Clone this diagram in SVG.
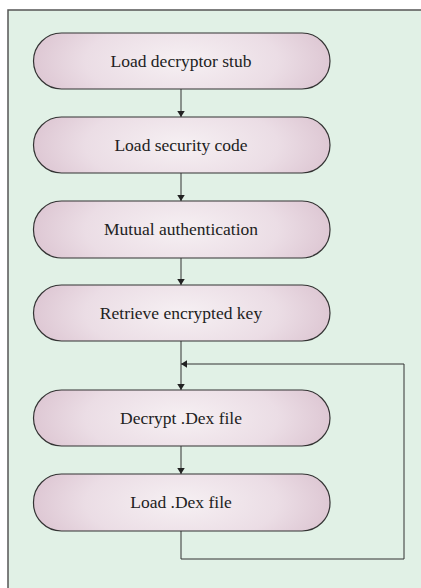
<svg xmlns="http://www.w3.org/2000/svg" width="421" height="588" viewBox="0 0 421 588">
  <style>
    .node rect { fill: url(#pill); stroke: #333; stroke-width: 1.2; }
    .node text { font-size: 17.5px; fill: #222; text-anchor: middle; }
    .edge { fill: none; stroke: #333; stroke-width: 1; }
  </style>
  <defs>
    <radialGradient id="pill" cx="0.5" cy="0.5" r="0.5" gradientTransform="translate(0.5 0.5) scale(1 2.2) translate(-0.5 -0.5)">
      <stop offset="0" stop-color="#f6f0f3"/>
      <stop offset="0.65" stop-color="#ebdde5"/>
      <stop offset="1" stop-color="#dec8d4"/>
    </radialGradient>
    <marker id="arrow" viewBox="0 0 8 10" refX="8" refY="5" markerWidth="6" markerHeight="8" orient="auto" markerUnits="userSpaceOnUse">
      <path d="M0,0 L8,5 L0,10 Z" fill="#222"/>
    </marker>
  </defs>

  <!-- panel -->
  <rect x="0" y="0" width="421" height="588" fill="#ffffff"/>
  <rect x="8" y="10" width="420" height="590" fill="#e1f1e6" stroke="#555" stroke-width="1.5"/>

  <!-- connectors -->
  <g id="connectors">
    <path class="edge" d="M181,89 V117" marker-end="url(#arrow)"/>
    <path class="edge" d="M181,173 V201" marker-end="url(#arrow)"/>
    <path class="edge" d="M181,258 V285" marker-end="url(#arrow)"/>
    <path class="edge" d="M181,341 V390" marker-end="url(#arrow)"/>
    <path class="edge" d="M181,446 V474" marker-end="url(#arrow)"/>
    <path class="edge" d="M181,531 V559 H404 V364 H181" marker-end="url(#arrow)"/>
  </g>

  <!-- steps -->
  <g id="load-stub" class="node">
    <rect x="33.5" y="33" width="296.5" height="56" rx="28" ry="28"/>
    <text x="181" y="67" font-family="'Liberation Serif', 'DejaVu Serif', serif">Load decryptor stub</text>
  </g>
  <g id="load-security" class="node">
    <rect x="33.5" y="117" width="296.5" height="56" rx="28" ry="28"/>
    <text x="181" y="151" font-family="'Liberation Serif', 'DejaVu Serif', serif">Load security code</text>
  </g>
  <g id="mutual-auth" class="node">
    <rect x="33.5" y="201" width="296.5" height="57" rx="28" ry="28"/>
    <text x="181" y="235" font-family="'Liberation Serif', 'DejaVu Serif', serif">Mutual authentication</text>
  </g>
  <g id="retrieve-key" class="node">
    <rect x="33.5" y="285" width="296.5" height="56" rx="28" ry="28"/>
    <text x="181" y="319" font-family="'Liberation Serif', 'DejaVu Serif', serif">Retrieve encrypted key</text>
  </g>
  <g id="decrypt-dex" class="node">
    <rect x="33.5" y="390" width="296.5" height="56" rx="28" ry="28"/>
    <text x="181" y="424" font-family="'Liberation Serif', 'DejaVu Serif', serif">Decrypt .Dex file</text>
  </g>
  <g id="load-dex" class="node">
    <rect x="33.5" y="474" width="296.5" height="57" rx="28" ry="28"/>
    <text x="181" y="508" font-family="'Liberation Serif', 'DejaVu Serif', serif">Load .Dex file</text>
  </g>
</svg>
